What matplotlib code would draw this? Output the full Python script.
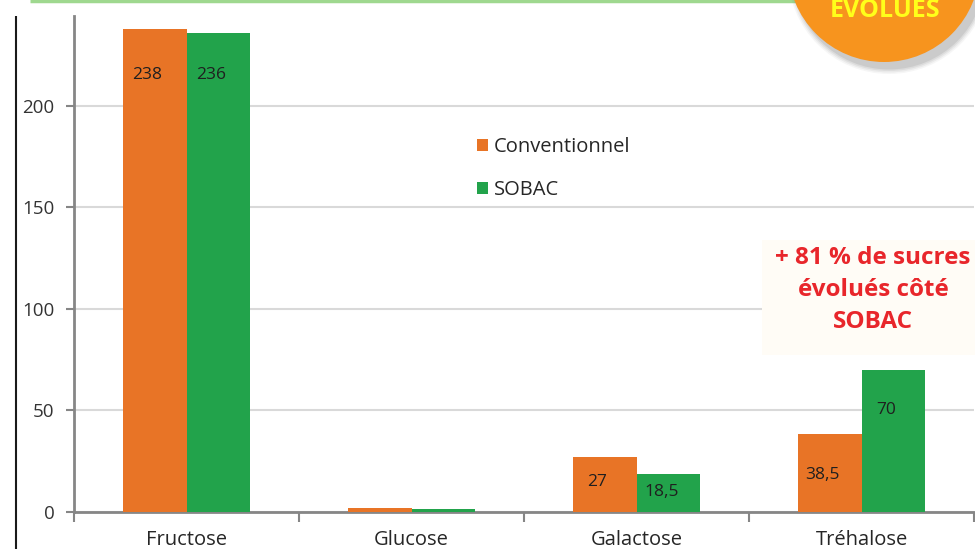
import matplotlib
matplotlib.use("Agg")
import matplotlib.pyplot as plt
from matplotlib.patches import Circle, Rectangle
import matplotlib.transforms as mtransforms
import numpy as np

plt.rcParams['font.family'] = ['Open Sans', 'DejaVu Sans']

categories = ["Fructose", "Glucose", "Galactose", "Tréhalose"]
conventionnel = [238, 2.2, 27, 38.5]
sobac = [236, 1.5, 18.5, 70]
conv_labels = ["238", "", "27", "38,5"]
sobac_labels = ["236", "", "18,5", "70"]
series_names = ["Conventionnel", "SOBAC"]
yticks = [0, 50, 100, 150, 200]
annotation = "+ 81 % de sucres\névolués côté\nSOBAC"
badge_text = "ÉVOLUÉS"

# style
C_ORANGE = "#e87426"
C_GREEN = "#22a34b"
conv_label_drop = [46, 0, 25, 41]   # px below bar top
sobac_label_drop = [42, 0, 18, 40]

W, H = 975, 549
fig = plt.figure(figsize=(W / 100, H / 100), dpi=100)
fig.patch.set_facecolor("white")

ax = fig.add_axes([74 / W, 1 - 512 / H, 900 / W, (512 - 16) / H])
x = np.arange(len(categories))
bw = 0.2844
ax.bar(x - bw / 2, conventionnel, bw, color=C_ORANGE, zorder=3, label=series_names[0])
ax.bar(x + bw / 2, sobac, bw, color=C_GREEN, zorder=3, label=series_names[1])
ax.set_xlim(-0.5, len(categories) - 0.5)
ax.set_ylim(0, 244.3)
ax.set_yticks(yticks)
ax.set_yticklabels([str(v) for v in yticks])
ax.yaxis.grid(True, color="#d9d9d9", linewidth=1.5, zorder=0)
ax.set_axisbelow(True)
ax.set_xticks(np.arange(len(categories) + 1) - 0.5, minor=True)
ax.set_xticks(x)
ax.set_xticklabels(categories)
ax.tick_params(axis="x", which="major", length=0, pad=13, labelsize=14.5, labelcolor="#262626")
ax.tick_params(axis="x", which="minor", length=7, width=1.5, color="#868686")
ax.tick_params(axis="y", length=6, width=1.5, color="#868686", pad=8, labelsize=13.5, labelcolor="#333333")
for s in ["top", "right"]:
    ax.spines[s].set_visible(False)
ax.spines["left"].set_color("#868686")
ax.spines["left"].set_linewidth(2)
ax.spines["bottom"].set_color("#868686")
ax.spines["bottom"].set_linewidth(2)

# value labels
for i in range(len(categories)):
    for vals, labs, drops, off in ((conventionnel, conv_labels, conv_label_drop, -bw / 2),
                                   (sobac, sobac_labels, sobac_label_drop, bw / 2)):
        if labs[i]:
            tr = mtransforms.offset_copy(ax.transData, fig=fig, x=-7 * 0.72, y=-drops[i] * 0.72, units="points")
            ax.text(x[i] + off, vals[i], labs[i], transform=tr, ha="center", va="center",
                    fontsize=12.5, color="#1f1f1f", zorder=5)

# legend
leg = ax.legend(loc="upper left", bbox_to_anchor=((459 - 74) / 900, (512 - 119) / 496),
                frameon=False, fontsize=14.5, handlelength=0.55, handleheight=0.55,
                handletextpad=0.3, labelspacing=1.15, labelcolor="#262626")

# overlay in pixel coordinates
ov = fig.add_axes([0, 0, 1, 1], zorder=10)
ov.set_xlim(0, W)
ov.set_ylim(H, 0)
ov.axis("off")
ov.patch.set_alpha(0)

# left black line and top green line
ov.plot([16, 16], [16, H], color="#1a1a1a", linewidth=1.5, solid_capstyle="butt")
ov.plot([30, 800], [0.8, 0.8], color="#9fd88f", linewidth=2.5, solid_capstyle="butt")

# annotation box
ov.add_patch(Rectangle((762, 240), 213, 115, facecolor="#fffcf6", edgecolor="none", zorder=1))
ov.text(873, 290, annotation, ha="center", va="center", fontsize=17.5, fontweight="bold",
        color="#e8262b", linespacing=1.45, zorder=2)

# badge circle with shadow
cx, cy, r = 884, -34, 96
for k, a in enumerate([0.05, 0.07, 0.09, 0.12]):
    ov.add_patch(Circle((cx + 5, cy + 7), r + 5 - k * 1.5, facecolor="#555555", alpha=a,
                        edgecolor="none", zorder=3))
ov.add_patch(Circle((cx, cy), r, facecolor="#f7941e", edgecolor="none", zorder=4))
ov.text(885, 17, badge_text, ha="center", va="baseline", fontsize=18, fontweight="bold",
        color="#ffff1a", zorder=5)

fig.savefig("out.png", dpi=100)
